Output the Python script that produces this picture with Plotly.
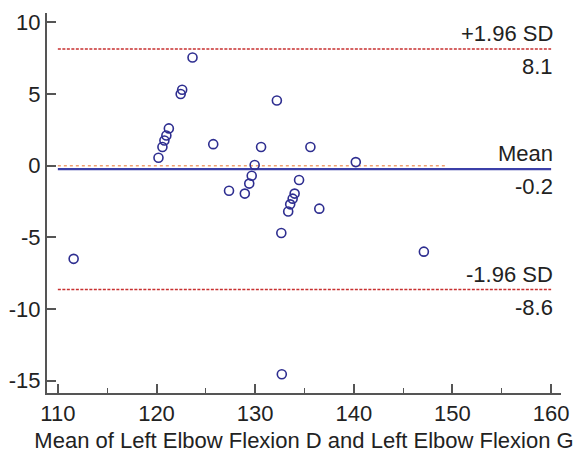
import plotly.graph_objects as go

mean_vals = [111.6, 120.2, 120.6, 120.8, 121.0, 121.25, 122.45, 122.6, 123.65, 125.75,
             127.35, 128.95, 129.4, 129.65, 129.95, 130.6, 132.2, 132.65, 132.7, 133.35,
             133.55, 133.8, 134.0, 134.45, 135.6, 136.5, 140.2, 147.1]
diff_vals = [-6.5, 0.55, 1.3, 1.75, 2.1, 2.6, 5.0, 5.3, 7.55, 1.5,
             -1.75, -1.95, -1.25, -0.7, 0.05, 1.3, 4.55, -4.7, -14.55, -3.2,
             -2.7, -2.3, -1.95, -1.0, 1.3, -3.0, 0.25, -6.0]

mean_diff = -0.24
upper_loa = 8.14
lower_loa = -8.64
zero_line_x = [110, 149.3]
ref_x = [110, 160]

x_ticks = [110, 120, 130, 140, 150, 160]
y_ticks = [-15, -10, -5, 0, 5, 10]
y_tick_text = ["-15", "-10", "-5", "0", "5", "10"]

font = "Liberation Sans, Arial, sans-serif"
FS = 22

fig = go.Figure()
fig.add_trace(go.Scatter(x=zero_line_x, y=[0, 0], mode="lines",
                         line=dict(color="#f0a070", width=1.5, dash="dot"), hoverinfo="skip"))
fig.add_trace(go.Scatter(x=ref_x, y=[mean_diff, mean_diff], mode="lines",
                         line=dict(color="#3b3fa8", width=2.2), hoverinfo="skip"))
for v in (upper_loa, lower_loa):
    fig.add_trace(go.Scatter(x=ref_x, y=[v, v], mode="lines",
                             line=dict(color="#c83030", width=1.3, dash="3px,1.5px"), hoverinfo="skip"))
fig.add_trace(go.Scatter(x=mean_vals, y=diff_vals, mode="markers",
                         marker=dict(symbol="circle-open", size=9, color="#2e2e90",
                                     line=dict(width=1.6, color="#2e2e90"))))

labels = [(upper_loa, "+1.96 SD", f"{upper_loa:.1f}"),
          (mean_diff, "Mean", f"{mean_diff:.1f}"),
          (lower_loa, "-1.96 SD", f"{lower_loa:.1f}")]
for v, top, bottom in labels:
    fig.add_annotation(x=ref_x[1], y=v, text=top, showarrow=False, xanchor="right",
                       yanchor="bottom", yshift=1, xshift=4, font=dict(size=FS, color="#222"))
    fig.add_annotation(x=ref_x[1], y=v, text=bottom, showarrow=False, xanchor="right",
                       yanchor="top", yshift=-3, xshift=4, font=dict(size=FS, color="#222"))

axis_common = dict(showline=True, linecolor="#555", linewidth=2, ticks="inside",
                   tickcolor="#555", tickwidth=1.5, ticklen=9, showgrid=False,
                   zeroline=False, automargin=False, tickfont=dict(size=FS, color="#222"))

fig.update_layout(
    width=575, height=458,
    margin=dict(l=47, r=14, t=13, b=65),
    paper_bgcolor="white", plot_bgcolor="white",
    showlegend=False,
    font=dict(family=font, color="#222"),
    xaxis=dict(range=[108.9, 161.0], tickvals=x_ticks,
               minor=dict(ticks="inside", dtick=5, tick0=110, ticklen=5, tickcolor="#555", tickwidth=1.2),
               title=dict(text="Mean of Left Elbow Flexion D and Left Elbow Flexion G",
                          font=dict(size=FS, color="#222"), standoff=7),
               **axis_common),
    yaxis=dict(range=[-15.86, 10.65], tickvals=y_ticks, ticktext=y_tick_text, **axis_common),
)

fig.write_html("out.html", config={"displayModeBar": False},
               post_script="document.body.style.margin='0';document.body.style.overflow='hidden';")
